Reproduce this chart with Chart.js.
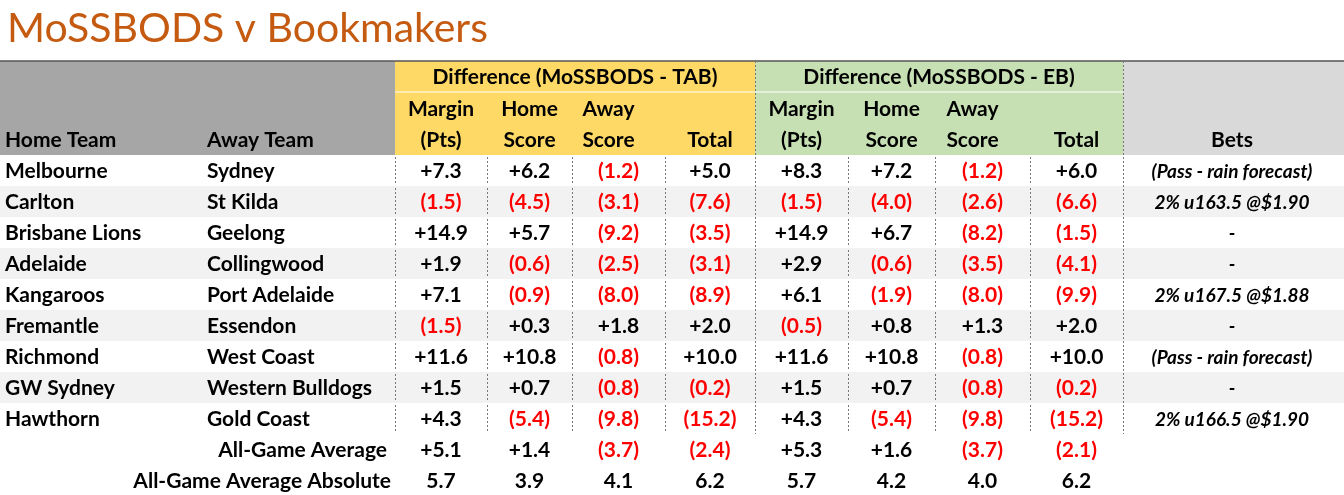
<!DOCTYPE html>
<html><head><meta charset="utf-8">
<script src="https://cdn.jsdelivr.net/npm/chart.js@4"></script>
<style>html,body{margin:0;padding:0;background:#fff}#c{display:block}</style>
</head><body>
<div style="width:1344px;height:495px"><canvas id="c"></canvas></div>
<script>
const homeTeams = ["Melbourne","Carlton","Brisbane Lions","Adelaide","Kangaroos","Fremantle","Richmond","GW Sydney","Hawthorn"];
const awayTeams = ["Sydney","St Kilda","Geelong","Collingwood","Port Adelaide","Essendon","West Coast","Western Bulldogs","Gold Coast"];
const tabMargin = [7.3,-1.5,14.9,1.9,7.1,-1.5,11.6,1.5,4.3];
const tabHome   = [6.2,-4.5,5.7,-0.6,-0.9,0.3,10.8,0.7,-5.4];
const tabAway   = [-1.2,-3.1,-9.2,-2.5,-8.0,1.8,-0.8,-0.8,-9.8];
const tabTotal  = [5.0,-7.6,-3.5,-3.1,-8.9,2.0,10.0,-0.2,-15.2];
const ebMargin  = [8.3,-1.5,14.9,2.9,6.1,-0.5,11.6,1.5,4.3];
const ebHome    = [7.2,-4.0,6.7,-0.6,-1.9,0.8,10.8,0.7,-5.4];
const ebAway    = [-1.2,-2.6,-8.2,-3.5,-8.0,1.3,-0.8,-0.8,-9.8];
const ebTotal   = [6.0,-6.6,-1.5,-4.1,-9.9,2.0,10.0,-0.2,-15.2];
const bets = ["(Pass - rain forecast)","2% u163.5 @$1.90","-","-","2% u167.5 @$1.88","-","(Pass - rain forecast)","-","2% u166.5 @$1.90"];
const avgRow    = [5.1,1.4,-3.7,-2.4,5.3,1.6,-3.7,-2.1];
const absAvgRow = [5.7,3.9,4.1,6.2,5.7,4.2,4.0,6.2];

const colEdges = [0,200,395,487,572,665,755,848,935,1030,1123,1344];
const rowTop0 = 155, rowH = 31;
const FONT = "Lato, 'Open Sans', sans-serif";
const DS = 21;

function fmt(v){ return v < 0 ? "(" + Math.abs(v).toFixed(1) + ")" : "+" + v.toFixed(1); }

const tablePlugin = {
  id: "table",
  afterDraw(chart){
    const ctx = chart.ctx, X = chart.scales.x, Y = chart.scales.y;
    const px = v => X.getPixelForValue(v), py = v => Y.getPixelForValue(v);
    const rect = (x0,y0,x1,y1,c) => { ctx.fillStyle=c; ctx.fillRect(px(x0),py(y0),px(x1)-px(x0),py(y1)-py(y0)); };
    const text = (s,x,y,opt={}) => {
      ctx.font = (opt.italic?"italic ":"") + "bold " + (opt.size||DS) + "px " + FONT;
      ctx.fillStyle = opt.color || "#000";
      ctx.textAlign = opt.align || "center";
      ctx.textBaseline = "middle";
      ctx.fillText(s, px(x), py(y));
    };
    ctx.save();
    ctx.font = "41px " + FONT; ctx.fillStyle = "#C55A11"; ctx.textAlign="left"; ctx.textBaseline="alphabetic";
    ctx.fillText("MoSSBODS v Bookmakers", px(7), py(42));
    rect(0,61,395,155,"#A6A6A6");
    rect(395,61,755,155,"#FFD966");
    rect(755,61,1123,155,"#C6E0B4");
    rect(1123,61,1344,155,"#D9D9D9");
    for (let i=0;i<homeTeams.length;i++) if (i%2===1) rect(0,rowTop0+i*rowH,1344,rowTop0+(i+1)*rowH,"#F2F2F2");
    ctx.strokeStyle="#555"; ctx.lineWidth=1.5;
    ctx.beginPath(); ctx.moveTo(px(0),py(61)); ctx.lineTo(px(1344),py(61)); ctx.stroke();
    ctx.strokeStyle="#fff"; ctx.lineWidth=1;
    ctx.beginPath(); ctx.moveTo(px(395),py(92)); ctx.lineTo(px(1123),py(92)); ctx.stroke();
    ctx.strokeStyle="#777"; ctx.setLineDash([2,2]); ctx.lineWidth=1;
    const bottom = rowTop0 + homeTeams.length*rowH;
    [755,1123].forEach(e=>{ ctx.beginPath(); ctx.moveTo(px(e)+0.5,py(61)); ctx.lineTo(px(e)+0.5,py(bottom)); ctx.stroke(); });
    for (let i=0;i<homeTeams.length;i++){
      [395,487,572,665,848,935,1030].forEach(e=>{
        ctx.beginPath(); ctx.moveTo(px(e)+0.5,py(rowTop0+i*rowH+2)); ctx.lineTo(px(e)+0.5,py(rowTop0+(i+1)*rowH-2)); ctx.stroke();
      });
    }
    ctx.setLineDash([]);
    const mid = k => (colEdges[k]+colEdges[k+1])/2;
    text("Difference (MoSSBODS - TAB)",575,77);
    text("Difference (MoSSBODS - EB)",939,77);
    text("Home Team",5,140,{align:"left"});
    text("Away Team",207,140,{align:"left"});
    const sub1 = ["Margin","Home","Away",""], sub2 = ["(Pts)","Score","Score","Total"];
    for (let g=0; g<2; g++) for (let j=0;j<4;j++){
      const k = 2 + g*4 + j;
      if (sub1[j]) text(sub1[j], mid(k)-(j===2?10:0), 109);
      text(sub2[j], mid(k)-(j===2?10:0), 140);
    }
    text("Bets",1232,140);
    const cols = [tabMargin,tabHome,tabAway,tabTotal,ebMargin,ebHome,ebAway,ebTotal];
    for (let i=0;i<homeTeams.length;i++){
      const yc = rowTop0 + i*rowH + rowH/2 + 1;
      text(homeTeams[i],5,yc,{align:"left"});
      text(awayTeams[i],207,yc,{align:"left"});
      cols.forEach((arr,j)=>{ const v=arr[i]; text(fmt(v), mid(2+j), yc, {color: v<0?"#FF0000":"#000"}); });
      text(bets[i], 1232, yc, {italic:true, size:19});
    }
    let yc = bottom + rowH/2 + 1;
    text("All-Game Average",387,yc,{align:"right"});
    avgRow.forEach((v,j)=>text(fmt(v), mid(2+j), yc, {color: v<0?"#FF0000":"#000"}));
    yc += rowH;
    text("All-Game Average Absolute",391,yc,{align:"right"});
    absAvgRow.forEach((v,j)=>text(v.toFixed(1), mid(2+j), yc));
    ctx.restore();
  }
};

new Chart(document.getElementById("c"), {
  type: "scatter",
  data: { datasets: [{ data: [], pointRadius: 0 }] },
  options: {
    responsive: true, maintainAspectRatio: false, animation: false,
    layout: { padding: 0 },
    plugins: { legend: {display:false}, tooltip: {enabled:false}, title:{display:false} },
    scales: {
      x: { type:"linear", min:0, max:1344, display:false },
      y: { type:"linear", min:0, max:495, reverse:true, display:false }
    }
  },
  plugins: [tablePlugin]
});
</script>
</body></html>
